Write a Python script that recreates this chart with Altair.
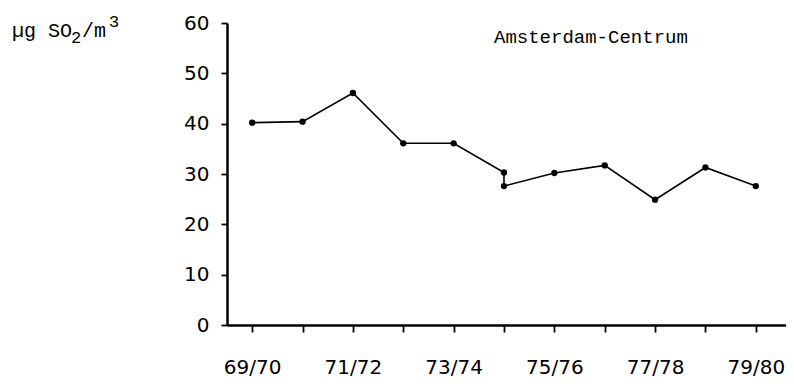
import altair as alt
import pandas as pd

# Season labels on the x axis (one tick per season)
season_labels = ["69/70", "70/71", "71/72", "72/73", "73/74", "74/75",
                 "75/76", "76/77", "77/78", "78/79", "79/80"]

# Plotted points (74/75 has two readings)
point_seasons = ["69/70", "70/71", "71/72", "72/73", "73/74", "74/75", "74/75",
                 "75/76", "76/77", "77/78", "78/79", "79/80"]
point_values = [40.2, 40.4, 46.1, 36.1, 36.1, 30.3, 27.6, 30.2, 31.7, 24.9, 31.3, 27.6]

y_ticks = [0, 10, 20, 30, 40, 50, 60]
station = ["Amsterdam-Centrum"]
unit_main = ["µg SO"]
unit_sub = ["2"]
unit_mid = ["/m"]
unit_sup = ["3"]

df = pd.DataFrame({
    "idx": [season_labels.index(s) for s in point_seasons],
    "season": point_seasons,
    "value": point_values,
    "order": list(range(len(point_values))),
})

shown = [lab if i % 2 == 0 else "" for i, lab in enumerate(season_labels)]
label_expr = "[" + ",".join("'" + s + "'" for s in shown) + "][datum.value]"

x_enc = alt.X("idx:Q",
              scale=alt.Scale(domain=[-0.5, 10.6], nice=False, zero=False),
              axis=alt.Axis(values=list(range(len(season_labels))), labelExpr=label_expr,
                            title=None, tickSize=7, labelPadding=25))
y_enc = alt.Y("value:Q",
              scale=alt.Scale(domain=[0, 60], nice=False),
              axis=alt.Axis(values=y_ticks, title=None, tickSize=6, labelPadding=12))

base = alt.Chart(df)
line = base.mark_line(color="black", strokeWidth=1.6).encode(x=x_enc, y=y_enc, order="order:Q")
pts = base.mark_circle(color="black", opacity=1, size=40).encode(x=x_enc, y=y_enc)

mono = "Liberation Mono"

title = alt.Chart(pd.DataFrame({"t": station})).mark_text(
    font=mono, fontSize=19, align="left", baseline="alphabetic", color="black"
).encode(x=alt.value(267), y=alt.value(20), text="t:N")

u1 = alt.Chart(pd.DataFrame({"t": unit_main})).mark_text(
    font=mono, fontSize=20, align="left", baseline="alphabetic", color="black"
).encode(x=alt.value(-215), y=alt.value(14), text="t:N")
u2 = alt.Chart(pd.DataFrame({"t": unit_sub})).mark_text(
    font=mono, fontSize=17, align="left", baseline="alphabetic", color="black"
).encode(x=alt.value(-156), y=alt.value(20), text="t:N")
u3 = alt.Chart(pd.DataFrame({"t": unit_mid})).mark_text(
    font=mono, fontSize=20, align="left", baseline="alphabetic", color="black"
).encode(x=alt.value(-145), y=alt.value(14), text="t:N")
u4 = alt.Chart(pd.DataFrame({"t": unit_sup})).mark_text(
    font=mono, fontSize=17, align="left", baseline="alphabetic", color="black"
).encode(x=alt.value(-118), y=alt.value(4), text="t:N")

chart = alt.layer(line, pts, title, u1, u2, u3, u4).properties(
    width=559, height=302,
    padding={"left": 219, "top": 15, "right": 0, "bottom": 56},
    autosize="none",
).configure_view(stroke=None).configure_axis(
    grid=False,
    domainColor="black", domainWidth=2.5,
    tickColor="black", tickWidth=1.8,
    labelFont="DejaVu Sans", labelFontSize=20, labelColor="black",
)

chart.save("out.html", embed_options={"renderer": "svg", "actions": False})
